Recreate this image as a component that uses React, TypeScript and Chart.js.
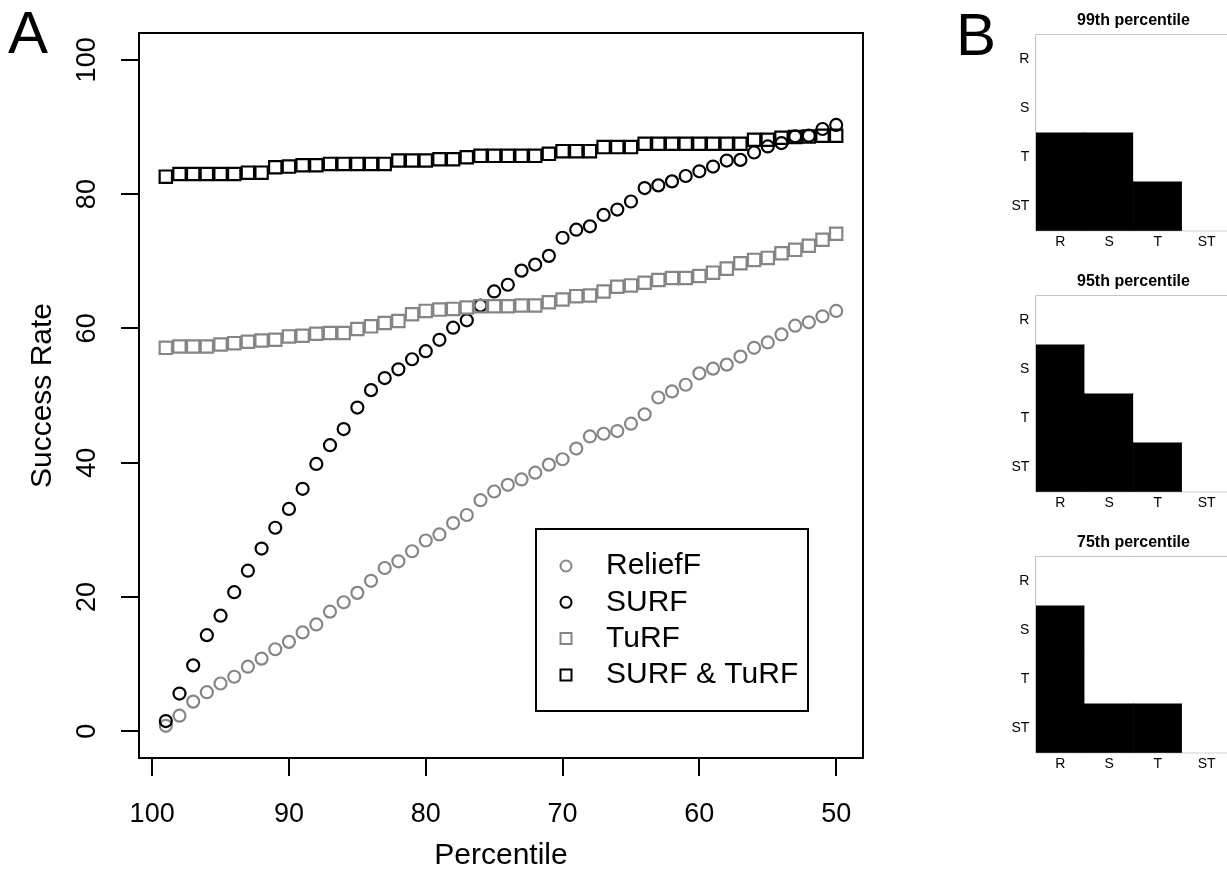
import React, { useEffect, useRef } from 'react';
import { Chart, registerables } from 'chart.js';

Chart.register(...registerables);

const FONT = '"Liberation Sans", Arial, Helvetica, sans-serif';
const GRAY = '#858585';

// ---------- Panel A data ----------
const percentiles = [
  99, 98, 97, 96, 95, 94, 93, 92, 91, 90,
  89, 88, 87, 86, 85, 84, 83, 82, 81, 80,
  79, 78, 77, 76, 75, 74, 73, 72, 71, 70,
  69, 68, 67, 66, 65, 64, 63, 62, 61, 60,
  59, 58, 57, 56, 55, 54, 53, 52, 51, 50,
];
const reliefF = [
  0.8, 2.3, 4.4, 5.8, 7.1, 8.1, 9.6, 10.8, 12.2, 13.3,
  14.7, 15.9, 17.8, 19.2, 20.6, 22.4, 24.3, 25.3, 26.8, 28.4,
  29.3, 31.0, 32.2, 34.4, 35.7, 36.7, 37.5, 38.5, 39.7, 40.5,
  42.1, 43.9, 44.3, 44.7, 45.8, 47.2, 49.7, 50.6, 51.6, 53.3,
  54.0, 54.6, 55.8, 57.1, 57.9, 59.1, 60.4, 60.9, 61.8, 62.6,
];
const surf = [
  1.5, 5.6, 9.8, 14.3, 17.2, 20.7, 23.9, 27.2, 30.3, 33.1,
  36.1, 39.8, 42.6, 45.0, 48.2, 50.8, 52.6, 53.9, 55.4, 56.6,
  58.3, 60.1, 61.2, 63.4, 65.5, 66.5, 68.6, 69.5, 70.8, 73.5,
  74.7, 75.2, 76.9, 77.7, 78.9, 80.9, 81.3, 81.9, 82.7, 83.4,
  84.1, 85.0, 85.1, 86.2, 87.1, 87.6, 88.6, 88.7, 89.7, 90.3,
];
const turf = [
  57.1, 57.3, 57.3, 57.3, 57.6, 57.8, 58.0, 58.2, 58.3, 58.8,
  58.9, 59.2, 59.3, 59.3, 59.9, 60.3, 60.8, 61.1, 62.1, 62.6,
  62.8, 62.9, 63.1, 63.3, 63.3, 63.3, 63.4, 63.4, 63.9, 64.3,
  64.8, 64.9, 65.5, 66.2, 66.4, 66.8, 67.2, 67.5, 67.5, 67.8,
  68.3, 68.9, 69.7, 70.2, 70.5, 71.2, 71.7, 72.3, 73.2, 74.1,
];
const surfTurf = [
  82.6, 83.0, 83.0, 83.0, 83.0, 83.0, 83.2, 83.2, 84.0, 84.1,
  84.3, 84.3, 84.5, 84.5, 84.5, 84.5, 84.5, 85.0, 85.0, 85.0,
  85.2, 85.2, 85.5, 85.7, 85.7, 85.7, 85.7, 85.7, 86.0, 86.4,
  86.4, 86.4, 87.0, 87.0, 87.0, 87.5, 87.5, 87.5, 87.5, 87.5,
  87.5, 87.5, 87.5, 88.1, 88.1, 88.4, 88.5, 88.6, 88.7, 88.7,
];
const seriesNames = ['ReliefF', 'SURF', 'TuRF', 'SURF & TuRF'];
const xTickValues = [100, 90, 80, 70, 60, 50];
const yTickValues = [0, 20, 40, 60, 80, 100];

// ---------- Panel B data ----------
const matrixRows = ['R', 'S', 'T', 'ST'];
const matrixCols = ['R', 'S', 'T', 'ST'];
const panelTitles = ['99th percentile', '95th percentile', '75th percentile'];
const m99 = [
  [0, 0, 0, 0],
  [0, 0, 0, 0],
  [1, 1, 0, 0],
  [1, 1, 1, 0],
];
const m95 = [
  [0, 0, 0, 0],
  [1, 0, 0, 0],
  [1, 1, 0, 0],
  [1, 1, 1, 0],
];
const m75 = [
  [0, 0, 0, 0],
  [1, 0, 0, 0],
  [1, 0, 0, 0],
  [1, 1, 1, 0],
];

function PanelA() {
  const ref = useRef<HTMLCanvasElement>(null);
  useEffect(() => {
    const toPts = (ys: number[]) => percentiles.map((x, i) => ({ x, y: ys[i] }));
    const styles = [
      { color: GRAY, shape: 'circle', radius: 6.0, order: 4, values: reliefF },
      { color: '#000', shape: 'circle', radius: 6.0, order: 3, values: surf },
      { color: GRAY, shape: 'rect', radius: 8.7, order: 2, values: turf },
      { color: '#000', shape: 'rect', radius: 8.7, order: 1, values: surfTurf },
    ];
    const datasets = styles.map((s, i) => ({
      label: seriesNames[i],
      data: toPts(s.values),
      pointStyle: s.shape,
      pointRadius: s.radius,
      pointHoverRadius: s.radius,
      pointBorderWidth: 2.2,
      borderColor: s.color,
      pointBorderColor: s.color,
      backgroundColor: 'rgba(0,0,0,0)',
      pointBackgroundColor: 'rgba(0,0,0,0)',
      order: s.order,
      showLine: false,
    }));

    const boxPlugin = {
      id: 'boxA',
      afterDatasetsDraw(chart: any) {
        const { ctx, chartArea: a } = chart;
        ctx.save();
        ctx.strokeStyle = '#000';
        ctx.lineWidth = 2;
        ctx.strokeRect(a.left, a.top, a.right - a.left, a.bottom - a.top);
        ctx.restore();
      },
    };
    const legendPlugin = {
      id: 'legendA',
      afterDraw(chart: any) {
        const { ctx, chartArea: a } = chart;
        const width = 272;
        const height = 182;
        const right = a.right - 55;
        const bottom = a.bottom - 47;
        const left = right - width;
        const top = bottom - height;
        ctx.save();
        ctx.fillStyle = '#fff';
        ctx.fillRect(left, top, width, height);
        ctx.strokeStyle = '#000';
        ctx.lineWidth = 2;
        ctx.strokeRect(left, top, width, height);
        chart.data.datasets.forEach((ds: any, i: number) => {
          const y = top + 37 + i * 36.3;
          const x = left + 30;
          ctx.strokeStyle = ds.borderColor;
          ctx.lineWidth = 2;
          ctx.beginPath();
          if (ds.pointStyle === 'circle') ctx.arc(x, y, 5.5, 0, Math.PI * 2);
          else ctx.rect(x - 5.5, y - 5.5, 11, 11);
          ctx.stroke();
          ctx.fillStyle = '#000';
          ctx.font = `30px ${FONT}`;
          ctx.textAlign = 'left';
          ctx.textBaseline = 'middle';
          ctx.fillText(ds.label, left + 70, y);
        });
        ctx.restore();
      },
    };

    const tickGrid = {
      drawOnChartArea: false,
      drawTicks: true,
      tickLength: 18,
      lineWidth: 2,
      color: '#000',
    };

    const chart = new Chart(ref.current as HTMLCanvasElement, {
      type: 'scatter',
      data: { datasets } as any,
      plugins: [boxPlugin, legendPlugin],
      options: {
        responsive: false,
        animation: false,
        events: [],
        layout: { padding: { left: 0, top: 33, right: 37, bottom: 0 } },
        plugins: { legend: { display: false }, tooltip: { enabled: false } },
        scales: {
          x: {
            type: 'linear',
            reverse: true,
            min: 48.04,
            max: 100.96,
            afterBuildTicks: (s: any) => {
              s.ticks = xTickValues.map((v) => ({ value: v }));
            },
            afterFit: (s: any) => {
              s.height = 113;
            },
            grid: tickGrid,
            border: { display: true, color: '#000', width: 2 },
            ticks: {
              color: '#000',
              font: { family: FONT, size: 27 },
              padding: 22,
              minRotation: 0,
              maxRotation: 0,
            },
            title: {
              display: true,
              text: 'Percentile',
              color: '#000',
              font: { family: FONT, size: 30, lineHeight: 1 },
              padding: { top: 0, bottom: 0 },
            },
          },
          y: {
            type: 'linear',
            min: -4,
            max: 104,
            afterBuildTicks: (s: any) => {
              s.ticks = yTickValues.map((v) => ({ value: v }));
            },
            afterFit: (s: any) => {
              s.width = 139;
            },
            grid: tickGrid,
            border: { display: true, color: '#000', width: 2 },
            ticks: {
              color: '#000',
              font: { family: FONT, size: 27 },
              padding: 11,
              minRotation: 90,
              maxRotation: 90,
              crossAlign: 'center',
            },
            title: {
              display: true,
              text: 'Success Rate',
              color: '#000',
              font: { family: FONT, size: 30, lineHeight: 1 },
              padding: { top: 28, bottom: 0 },
            },
          },
        },
      } as any,
    });
    return () => chart.destroy();
  }, []);
  return (
    <canvas
      ref={ref}
      width={900}
      height={871}
      style={{ position: 'absolute', left: 0, top: 0, width: 900, height: 871 }}
    />
  );
}

function MatrixPanel({ title, matrix, top }: { title: string; matrix: number[][]; top: number }) {
  const ref = useRef<HTMLCanvasElement>(null);
  useEffect(() => {
    const stackOrder = [3, 2, 1, 0]; // bottom row (ST) first
    const datasets = stackOrder.map((ri) => ({
      label: matrixRows[ri],
      data: matrixCols.map(() => 1),
      backgroundColor: matrix[ri].map((v) => (v ? '#000' : '#fff')),
      borderWidth: 0,
      barPercentage: 1,
      categoryPercentage: 1,
    }));
    const boxPlugin = {
      id: 'boxB',
      beforeDatasetsDraw(chart: any) {
        const { ctx, chartArea: a } = chart;
        ctx.save();
        ctx.strokeStyle = '#8a8a8a';
        ctx.lineWidth = 1;
        ctx.strokeRect(a.left, a.top, a.right - a.left, a.bottom - a.top);
        ctx.restore();
      },
    };
    const titlePlugin = {
      id: 'titleB',
      afterDraw(chart: any) {
        const { ctx, chartArea: a } = chart;
        ctx.save();
        ctx.fillStyle = '#000';
        ctx.font = `bold 16px ${FONT}`;
        ctx.textAlign = 'center';
        ctx.textBaseline = 'middle';
        ctx.fillText(title, (a.left + a.right) / 2, a.top - 14.5);
        ctx.restore();
      },
    };
    const chart = new Chart(ref.current as HTMLCanvasElement, {
      type: 'bar',
      data: { labels: matrixCols, datasets } as any,
      plugins: [boxPlugin, titlePlugin],
      options: {
        responsive: false,
        animation: false,
        events: [],
        layout: { padding: { left: 0, top: 35, right: 9, bottom: 0 } },
        plugins: { legend: { display: false }, tooltip: { enabled: false } },
        scales: {
          x: {
            type: 'category',
            stacked: true,
            afterFit: (s: any) => {
              s.height = 29.3;
            },
            grid: { display: false, drawTicks: false },
            border: { display: false },
            ticks: { color: '#000', font: { family: FONT, size: 14 }, padding: 3.5, maxRotation: 0 },
          },
          y: {
            type: 'linear',
            stacked: true,
            min: 0,
            max: 4,
            afterBuildTicks: (s: any) => {
              s.ticks = [3.5, 2.5, 1.5, 0.5].map((v) => ({ value: v }));
            },
            afterFit: (s: any) => {
              s.width = 56;
            },
            grid: { display: false, drawTicks: false },
            border: { display: false },
            ticks: {
              color: '#000',
              font: { family: FONT, size: 14 },
              padding: 6.7,
              callback: (v: any) => matrixRows[3 - Math.floor(Number(v))],
            },
          },
        },
      } as any,
    });
    return () => chart.destroy();
  }, [title, matrix]);
  return (
    <canvas
      ref={ref}
      width={260}
      height={260}
      style={{ position: 'absolute', left: 980, top, width: 260, height: 260 }}
    />
  );
}

export default function App() {
  const letter: React.CSSProperties = {
    position: 'absolute',
    fontFamily: FONT,
    fontSize: 60,
    lineHeight: '60px',
    color: '#000',
    margin: 0,
  };
  return (
    <div
      style={{
        position: 'fixed',
        left: 0,
        top: 0,
        width: 1227,
        height: 871,
        overflow: 'hidden',
        background: '#fff',
      }}
    >
      <PanelA />
      <MatrixPanel title={panelTitles[0]} matrix={m99} top={0} />
      <MatrixPanel title={panelTitles[1]} matrix={m95} top={261} />
      <MatrixPanel title={panelTitles[2]} matrix={m75} top={521.7} />
      <div style={{ ...letter, left: 8, top: 3 }}>A</div>
      <div style={{ ...letter, left: 956, top: 5 }}>B</div>
    </div>
  );
}
